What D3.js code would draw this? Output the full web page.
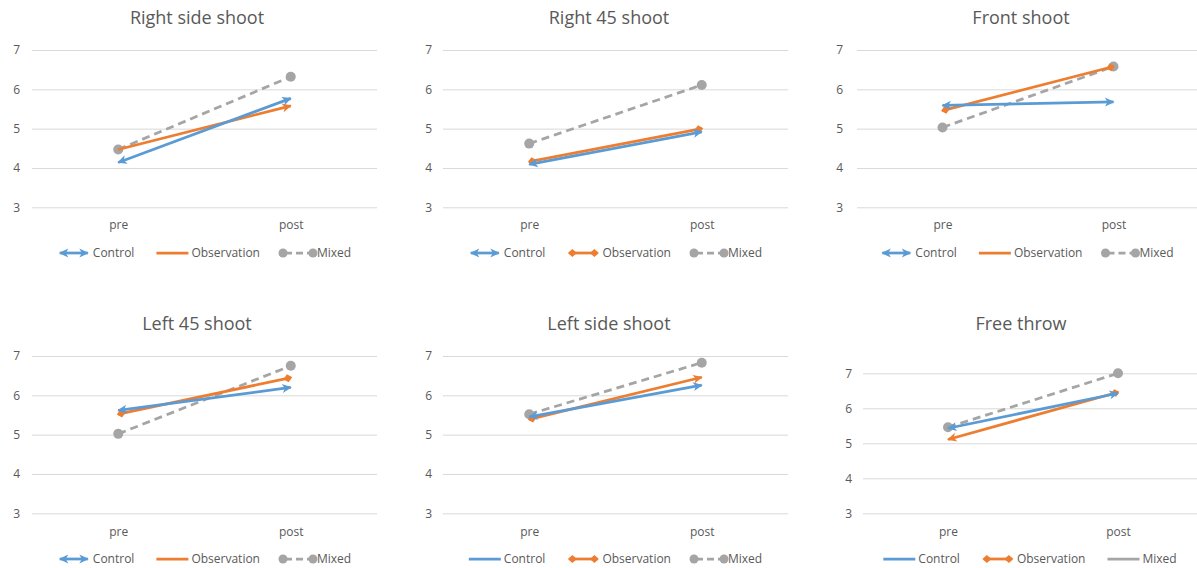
<!DOCTYPE html>
<html>
<head>
<meta charset="utf-8">
<script src="https://cdn.jsdelivr.net/npm/d3@7"></script>
<style>
  html, body { margin: 0; padding: 0; background: #fff; }
  svg { display: block; font-family: "Open Sans", "Noto Sans", sans-serif; }
</style>
</head>
<body>
<svg id="chart" width="1197" height="568"></svg>
<script>
// Shooting scores before and after training, by group and shooting position
const categories = ["pre", "post"];
const panelTitles = ["Right side shoot", "Right 45 shoot", "Front shoot",
                     "Left 45 shoot", "Left side shoot", "Free throw"];
const seriesNames = ["Control", "Observation", "Mixed"];
const controlValues     = [[4.14, 5.77], [4.09, 4.92], [5.59, 5.68], [5.62, 6.20], [5.45, 6.26], [5.43, 6.43]];
const observationValues = [[4.47, 5.58], [4.16, 5.00], [5.46, 6.58], [5.52, 6.45], [5.39, 6.46], [5.11, 6.46]];
const mixedValues       = [[4.47, 6.32], [4.62, 6.11], [5.03, 6.58], [5.02, 6.75], [5.52, 6.83], [5.46, 7.00]];
const yTicks = [3, 4, 5, 6, 7];

const colors = { Control: "#5B9BD5", Observation: "#ED7D31", Mixed: "#A5A5A5" };

// Panel geometry (plot area box, title and legend rows)
const panels = [
  { x0: 32,  x1: 377,  yTop: 50,    yBot: 207.3, titleX: 197,  titleY: 24,  catY: 225,   legendY: 253, tickX: 20,
    legend: ["arrow", "line", "dashcircle"], obsEnds: ["none", "arrow"] },
  { x0: 443, x1: 788,  yTop: 50,    yBot: 207.3, titleX: 609,  titleY: 24,  catY: 225,   legendY: 253, tickX: 432,
    legend: ["arrow", "diamond", "dashcircle"], obsEnds: ["diamond", "diamond"] },
  { x0: 857, x1: 1199, yTop: 50,    yBot: 207.3, titleX: 1021, titleY: 24,  catY: 225,   legendY: 253, tickX: 843,
    legend: ["arrow", "line", "dashcircle"], obsEnds: ["diamond", "diamond"] },
  { x0: 32,  x1: 377,  yTop: 356,   yBot: 513.3, titleX: 197,  titleY: 330, catY: 531.5, legendY: 559, tickX: 20,
    legend: ["arrow", "line", "dashcircle"], obsEnds: ["diamond", "diamond"] },
  { x0: 443, x1: 788,  yTop: 356,   yBot: 513.3, titleX: 609,  titleY: 330, catY: 531.5, legendY: 559, tickX: 432,
    legend: ["line", "diamond", "dashcircle"], obsEnds: ["diamond", "arrow"] },
  { x0: 863, x1: 1203, yTop: 373.3, yBot: 513.3, titleX: 1021, titleY: 330, catY: 531.5, legendY: 559, tickX: 852,
    legend: ["line", "diamond", "solid"], obsEnds: ["arrow", "diamond"] }
];

const svg = d3.select("#chart");
const defs = svg.append("defs");

// Line-end markers
function addMarker(id, color, shape) {
  const m = defs.append("marker")
    .attr("id", id)
    .attr("viewBox", "-10 -6 12 12")
    .attr("refX", 0).attr("refY", 0)
    .attr("markerUnits", "userSpaceOnUse")
    .attr("markerWidth", 12).attr("markerHeight", 12)
    .attr("orient", "auto-start-reverse");
  if (shape === "arrow") {
    m.append("path").attr("d", "M1,0 L-8.5,-4.5 L-6,0 L-8.5,4.5 Z").attr("fill", color);
  } else if (shape === "diamond") {
    m.append("path").attr("d", "M1.5,0 L-3,-4 L-7.5,0 L-3,4 Z").attr("fill", color);
  }
}
addMarker("ctl-arrow", colors.Control, "arrow");
addMarker("obs-arrow", colors.Observation, "arrow");
addMarker("obs-diamond", colors.Observation, "diamond");

const textColor = "#595959";

panels.forEach((p, i) => {
  const g = svg.append("g");
  const x = d3.scalePoint().domain(categories).range([p.x0, p.x1]).padding(0.5);
  const y = d3.scaleLinear().domain([3, 7]).range([p.yBot, p.yTop]);

  // title
  g.append("text")
    .attr("x", p.titleX).attr("y", p.titleY)
    .attr("text-anchor", "middle")
    .attr("font-size", 18).attr("fill", textColor)
    .text(panelTitles[i]);

  // gridlines + y tick labels
  const yAxis = d3.axisLeft(y).tickValues(yTicks).tickSize(-(p.x1 - p.x0)).tickPadding(0).tickFormat(d3.format("d"));
  const ya = g.append("g").attr("transform", `translate(${p.x0},0)`).call(yAxis);
  ya.select(".domain").remove();
  ya.selectAll(".tick line").attr("stroke", "#D9D9D9").attr("stroke-width", 1);
  ya.selectAll(".tick text")
    .attr("x", p.tickX - p.x0).attr("text-anchor", "end")
    .attr("font-size", 12).attr("fill", textColor)
    .attr("font-family", "Open Sans, sans-serif");

  // category labels
  const xAxis = d3.axisBottom(x).tickSize(0).tickPadding(0);
  const xa = g.append("g").attr("transform", `translate(0,${p.catY})`).call(xAxis);
  xa.select(".domain").remove();
  xa.selectAll(".tick text")
    .attr("dy", "0.35em").attr("y", 0)
    .attr("font-size", 12).attr("fill", textColor)
    .attr("font-family", "Open Sans, sans-serif");

  const line = d3.line().x((d, k) => x(categories[k])).y(d => y(d));

  // Mixed: dashed grey with round markers
  const mixed = mixedValues[i];
  g.append("path").datum(mixed)
    .attr("d", line).attr("fill", "none")
    .attr("stroke", colors.Mixed).attr("stroke-width", 2.75)
    .attr("stroke-dasharray", "8,5");
  g.selectAll(".mixed-pt").data(mixed).join("circle")
    .attr("cx", (d, k) => x(categories[k])).attr("cy", d => y(d))
    .attr("r", 5).attr("fill", colors.Mixed);

  // Observation
  const obs = observationValues[i];
  const obsPath = g.append("path").datum(obs)
    .attr("d", line).attr("fill", "none")
    .attr("stroke", colors.Observation).attr("stroke-width", 2.75);
  if (p.obsEnds[0] !== "none") obsPath.attr("marker-start", `url(#obs-${p.obsEnds[0]})`);
  if (p.obsEnds[1] !== "none") obsPath.attr("marker-end", `url(#obs-${p.obsEnds[1]})`);

  // Control: arrowheads at both ends
  const ctl = controlValues[i];
  g.append("path").datum(ctl)
    .attr("d", line).attr("fill", "none")
    .attr("stroke", colors.Control).attr("stroke-width", 2.75)
    .attr("marker-start", "url(#ctl-arrow)").attr("marker-end", "url(#ctl-arrow)");

  // legend
  const lg = g.append("g");
  const symW = 32;
  const items = seriesNames.map((name, k) => {
    const it = lg.append("g");
    const style = p.legend[k];
    const c = colors[name];
    const s = it.append("line").attr("x1", 0).attr("x2", symW).attr("y1", 0).attr("y2", 0)
      .attr("stroke", c).attr("stroke-width", 2.75);
    if (style === "arrow") {
      s.attr("x1", 2).attr("x2", symW - 2)
       .attr("marker-start", "url(#ctl-arrow)").attr("marker-end", "url(#ctl-arrow)");
    } else if (style === "diamond") {
      s.attr("x1", 2).attr("x2", symW - 2)
       .attr("marker-start", "url(#obs-diamond)").attr("marker-end", "url(#obs-diamond)");
    } else if (style === "dashcircle") {
      s.attr("stroke-dasharray", "7,4").attr("stroke-dashoffset", -3);
      it.append("circle").attr("cx", 1).attr("cy", 0).attr("r", 4.5).attr("fill", c);
      it.append("circle").attr("cx", symW - 1).attr("cy", 0).attr("r", 4.5).attr("fill", c);
    }
    const t = it.append("text").attr("x", symW + 3).attr("y", 0).attr("dy", "0.35em")
      .attr("font-size", 12).attr("fill", textColor)
      .attr("font-family", "Open Sans, sans-serif")
      .text(name);
    return { it, w: symW + 3 + t.node().getComputedTextLength() };
  });
  const gap = 22;
  const total = d3.sum(items, d => d.w) + gap * (items.length - 1);
  let cx = (p.x0 + Math.min(p.x1, 1197)) / 2 - total / 2;
  items.forEach(d => {
    d.it.attr("transform", `translate(${cx},${p.legendY})`);
    cx += d.w + gap;
  });
});
</script>
</body>
</html>
